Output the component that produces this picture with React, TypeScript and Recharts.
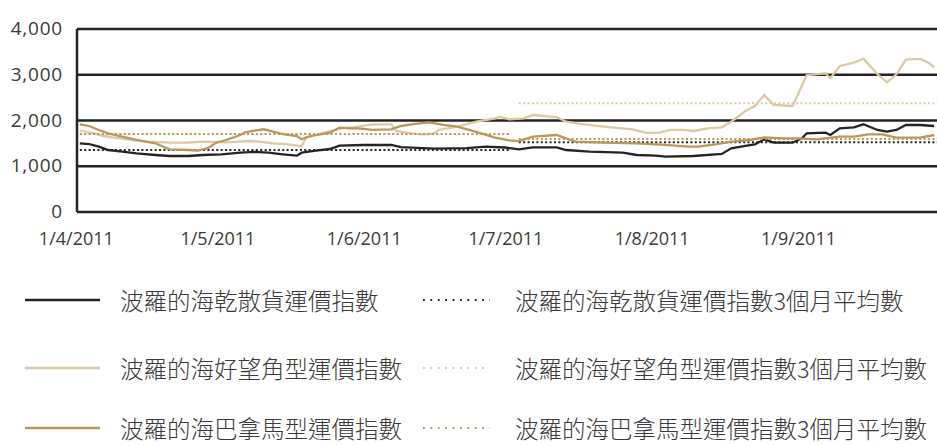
import { CartesianGrid, Line, LineChart, XAxis, YAxis } from "recharts";

// day offsets are counted from 1 Apr 2011
const monthTicks = [0, 30, 61, 91, 122, 153];
const monthLabels = ["1/4/2011", "1/5/2011", "1/6/2011", "1/7/2011", "1/8/2011", "1/9/2011"];
const valueTicks = [0, 1000, 2000, 3000, 4000];

const bdiDays = [0, 2, 4, 6, 9, 12, 16, 19, 23, 26, 30, 34, 37, 40, 43, 46, 47, 50, 53, 55, 60, 66, 68, 75, 82, 86, 90, 93, 96, 101, 103, 108, 115, 118, 122, 124, 130, 136, 138, 141, 143, 145, 147, 151, 153, 154, 158, 159, 161, 164, 166, 169, 171, 173, 175, 178, 181];
const bdiValues = [1502, 1486, 1427, 1355, 1318, 1283, 1246, 1224, 1224, 1246, 1261, 1297, 1312, 1297, 1261, 1231, 1297, 1340, 1377, 1450, 1465, 1465, 1420, 1385, 1395, 1428, 1410, 1371, 1414, 1414, 1355, 1318, 1297, 1246, 1231, 1209, 1224, 1268, 1392, 1443, 1480, 1589, 1515, 1515, 1611, 1720, 1734, 1683, 1829, 1851, 1917, 1793, 1756, 1793, 1902, 1902, 1880];

const bciDays = [0, 3, 5, 7, 11, 14, 19, 23, 26, 29, 31, 34, 36, 38, 41, 44, 47, 48, 50, 53, 56, 58, 62, 66, 67, 70, 73, 75, 76, 80, 84, 88, 89, 91, 94, 96, 101, 103, 106, 111, 117, 120, 123, 125, 128, 130, 133, 136, 138, 141, 143, 145, 147, 151, 154, 158, 159, 161, 164, 166, 169, 171, 173, 175, 178, 180, 181];
const bciValues = [1777, 1720, 1661, 1633, 1574, 1537, 1515, 1515, 1537, 1530, 1520, 1537, 1552, 1537, 1502, 1480, 1440, 1640, 1683, 1770, 1840, 1850, 1917, 1917, 1771, 1720, 1698, 1720, 1793, 1865, 1974, 2048, 2083, 2026, 2048, 2120, 2075, 1974, 1924, 1865, 1808, 1730, 1734, 1793, 1793, 1771, 1829, 1851, 1974, 2208, 2317, 2558, 2339, 2317, 2990, 3032, 2923, 3192, 3264, 3350, 3010, 2835, 3010, 3330, 3345, 3251, 3160];

const bpiDays = [0, 2, 4, 6, 9, 12, 16, 19, 23, 25, 27, 29, 31, 34, 35, 37, 39, 41, 43, 46, 47, 48, 50, 53, 55, 57, 59, 62, 66, 68, 71, 74, 77, 80, 83, 85, 88, 91, 93, 96, 101, 103, 105, 111, 118, 122, 124, 129, 131, 135, 138, 142, 145, 149, 152, 156, 161, 164, 167, 170, 173, 178, 181];
const bpiValues = [1917, 1880, 1793, 1720, 1646, 1574, 1502, 1371, 1355, 1340, 1392, 1520, 1574, 1683, 1742, 1777, 1808, 1756, 1705, 1661, 1589, 1633, 1683, 1734, 1845, 1829, 1829, 1793, 1808, 1880, 1924, 1960, 1902, 1865, 1777, 1720, 1624, 1565, 1550, 1646, 1683, 1611, 1537, 1515, 1502, 1480, 1465, 1428, 1428, 1486, 1537, 1574, 1633, 1611, 1611, 1589, 1646, 1646, 1698, 1698, 1624, 1624, 1683];

// 3-month averages: Q2 (Apr-Jun) and Q3 (Jul-Sep)
const quarterStart = [0, 93];
const quarterEnd = [91, 181.6];
const bdiAvg = [1355, 1524];
const bciAvg = [1705, 2376];
const bpiAvg = [1705, 1596];

const INK = "#262324";
const SAND = "#dccaa6";
const GOLD = "#b8985b";
const TEXT = "#3a3a3a";

const toPoints = (days: number[], values: number[]) => days.map((d, i) => ({ d, v: values[i] }));

const toQuarterPoints = (avg: number[]) => {
  const pts: { d: number; v: number | null }[] = [];
  avg.forEach((v, i) => {
    if (i > 0) pts.push({ d: (quarterEnd[i - 1] + quarterStart[i]) / 2, v: null });
    pts.push({ d: quarterStart[i], v });
    pts.push({ d: quarterEnd[i], v });
  });
  return pts;
};

const series = [
  { name: "波羅的海乾散貨運價指數", color: INK, data: toPoints(bdiDays, bdiValues), dotted: false },
  { name: "波羅的海乾散貨運價指數3個月平均數", color: INK, data: toQuarterPoints(bdiAvg), dotted: true },
  { name: "波羅的海好望角型運價指數", color: SAND, data: toPoints(bciDays, bciValues), dotted: false },
  { name: "波羅的海好望角型運價指數3個月平均數", color: SAND, data: toQuarterPoints(bciAvg), dotted: true },
  { name: "波羅的海巴拿馬型運價指數", color: GOLD, data: toPoints(bpiDays, bpiValues), dotted: false },
  { name: "波羅的海巴拿馬型運價指數3個月平均數", color: GOLD, data: toQuarterPoints(bpiAvg), dotted: true }
];

const axisFont = { fontFamily: "'Open Sans', sans-serif", fill: TEXT };

function DateTick({ x, payload }: any) {
  const label = monthLabels[monthTicks.indexOf(payload.value)];
  return (
    <text x={x - 3.5} y={238} textAnchor="middle" dominantBaseline="central" fontSize={18} {...axisFont}>
      {label}
    </text>
  );
}

function ValueTick({ y, payload }: any) {
  return (
    <text x={63} y={y - 1} textAnchor="end" dominantBaseline="central" fontSize={19} letterSpacing={0.8} {...axisFont}>
      {payload.value.toLocaleString("en-US")}
    </text>
  );
}

function LegendBlock() {
  const rowY = [300, 368, 428];
  return (
    <>
      {series.map((s, i) => {
        const row = Math.floor(i / 2);
        const col = i % 2;
        const lineX = col === 0 ? 25 : 423;
        const lineW = col === 0 ? 75 : 67;
        const textX = col === 0 ? 120 : 515;
        return (
          <div key={s.name}>
            <svg
              width={lineW}
              height={6}
              style={{ position: "absolute", left: lineX, top: rowY[row] - 3 }}
            >
              <line
                x1={0}
                x2={lineW}
                y1={3}
                y2={3}
                stroke={s.color}
                strokeWidth={s.dotted ? 1.8 : 2.4}
                strokeDasharray={s.dotted ? "1.8 5.6" : undefined}
              />
            </svg>
            <div
              style={{
                position: "absolute",
                left: textX,
                top: rowY[row] - 12,
                height: 24,
                lineHeight: "24px",
                fontSize: 23.5,
                fontWeight: 300,
                fontFamily: "'Noto Sans CJK TC', sans-serif",
                color: TEXT,
                whiteSpace: "nowrap"
              }}
            >
              {s.name}
            </div>
          </div>
        );
      })}
    </>
  );
}

export default function App() {
  return (
    <div style={{ position: "absolute", left: 0, top: 0, width: 937, height: 445, background: "#fff", overflow: "hidden" }}>
      <LineChart width={937} height={250} margin={{ top: 29, right: 0, bottom: 0, left: 0 }}>
        <CartesianGrid vertical={false} stroke={INK} strokeWidth={2.5} />
        <XAxis
          type="number"
          dataKey="d"
          domain={[-0.6, 181.6]}
          ticks={monthTicks}
          allowDataOverflow
          axisLine={false}
          tickLine={false}
          height={38}
          tick={<DateTick />}
        />
        <YAxis
          type="number"
          domain={[0, 4000]}
          ticks={valueTicks}
          width={77}
          axisLine={{ stroke: INK, strokeWidth: 2.5 }}
          tickLine={false}
          tick={<ValueTick />}
        />
        {series.map((s) => (
          <Line
            key={s.name}
            data={s.data}
            dataKey="v"
            type="linear"
            stroke={s.color}
            strokeWidth={s.dotted ? 2 : 2.3}
            strokeDasharray={s.dotted ? "2 2.4" : undefined}
            dot={false}
            activeDot={false}
            isAnimationActive={false}
          />
        ))}
      </LineChart>
      <LegendBlock />
    </div>
  );
}
